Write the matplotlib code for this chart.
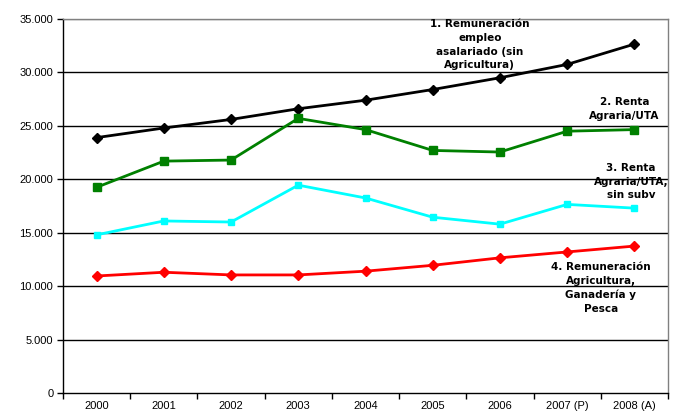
import matplotlib
matplotlib.use("Agg")
import matplotlib.pyplot as plt
from matplotlib.ticker import FuncFormatter, FixedLocator

years = ["2000", "2001", "2002", "2003", "2004", "2005", "2006", "2007 (P)", "2008 (A)"]
remun_asalariado = [23900, 24800, 25600, 26600, 27400, 28400, 29500, 30750, 32650]
renta_uta = [19250, 21700, 21800, 25700, 24650, 22700, 22550, 24500, 24650]
renta_uta_sin_subv = [14800, 16100, 16000, 19450, 18250, 16450, 15800, 17650, 17300]
remun_agricultura = [10950, 11300, 11050, 11050, 11400, 11950, 12650, 13200, 13750]

labels = [
    "1. Remuneración\nempleo\nasalariado (sin\nAgricultura)",
    "2. Renta\nAgraria/UTA",
    "3. Renta\nAgraria/UTA,\nsin subv",
    "4. Remuneración\nAgricultura,\nGanadería y\nPesca",
]

plt.rcParams['font.family'] = ['Liberation Sans', 'DejaVu Sans']

fig = plt.figure(figsize=(6.75, 4.12), dpi=100)
ax = fig.add_axes([63/675, 1-393/412, (668-63)/675, (393-19)/412])

x = list(range(len(years)))
ax.plot(x, remun_asalariado, color="black", lw=2, marker="D", ms=5, zorder=5)
ax.plot(x, renta_uta, color="#008000", lw=2, marker="s", ms=6, zorder=5)
ax.plot(x, renta_uta_sin_subv, color="#00FFFF", lw=2, marker="s", ms=4, zorder=5)
ax.plot(x, remun_agricultura, color="#FF0000", lw=2, marker="D", ms=5.5, zorder=5)

ax.set_xlim(-0.5, len(years) - 0.5)
ax.set_ylim(0, 35000)
ax.set_yticks(range(0, 35001, 5000))
ax.yaxis.set_major_formatter(FuncFormatter(lambda v, p: "0" if v == 0 else f"{int(v):,}".replace(",", ".")))
ax.set_xticks(x)
ax.set_xticklabels(years)
ax.xaxis.set_minor_locator(FixedLocator([i - 0.5 for i in range(len(years) + 1)]))
ax.tick_params(axis="x", which="major", length=0, labelsize=8, pad=6, colors="black")
ax.tick_params(axis="x", which="minor", length=4, width=1, direction="out", color="black")
ax.tick_params(axis="y", length=4, width=1, direction="out", labelsize=8, pad=3, colors="black")

for v in range(5000, 35001, 5000):
    ax.axhline(v, color="black" if v < 35000 else "#808080", lw=1, zorder=1)

ax.spines["left"].set_color("black")
ax.spines["bottom"].set_color("black")
ax.spines["top"].set_color("#808080")
ax.spines["right"].set_color("#808080")
for s in ax.spines.values():
    s.set_linewidth(1)

tkw = dict(ha="center", va="top", fontsize=7.5, fontweight="bold", linespacing=1.45, zorder=6,
           family=["DejaVu Sans"])
ax.text(5.7, 35000 - 30, labels[0], **tkw)
ax.text(7.85, 27700, labels[1], **tkw)
ax.text(7.95, 21500, labels[2], **tkw)
ax.text(7.5, 12250, labels[3], **tkw)

fig.savefig("out.png", dpi=100)
